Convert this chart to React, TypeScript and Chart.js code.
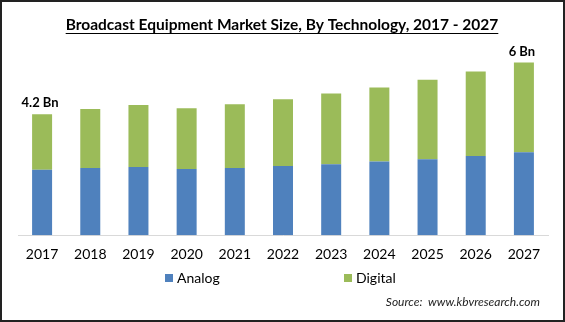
import React, { useEffect, useRef } from "react";
import { Chart, registerables } from "chart.js";

Chart.register(...registerables);

const titleText = "Broadcast Equipment Market Size, By Technology, 2017 - 2027";
const sourceText = "Source:  www.kbvresearch.com";
const years = ["2017", "2018", "2019", "2020", "2021", "2022", "2023", "2024", "2025", "2026", "2027"];
const analog = [2.27, 2.33, 2.37, 2.3, 2.33, 2.4, 2.46, 2.56, 2.64, 2.75, 2.88];
const digital = [1.93, 2.05, 2.15, 2.11, 2.22, 2.32, 2.46, 2.57, 2.76, 2.93, 3.12];
const totalLabels = ["4.2 Bn", "", "", "", "", "", "", "", "", "", "6 Bn"];
const seriesNames = ["Analog", "Digital"];
const seriesColors = ["#4F81BD", "#9BBB59"];

const FONT = "Lato, 'Open Sans', sans-serif";

const overlay = {
  id: "overlay",
  afterDraw(chart: any) {
    const ctx = chart.ctx as CanvasRenderingContext2D;
    ctx.save();
    // title
    ctx.fillStyle = "#000";
    ctx.font = `bold 15.5px ${FONT}`;
    ctx.textAlign = "center";
    ctx.textBaseline = "middle";
    const tx = 282;
    const ty = 25;
    ctx.fillText(titleText, tx, ty);
    const w = ctx.measureText(titleText).width;
    ctx.strokeStyle = "#000";
    ctx.lineWidth = 1;
    ctx.beginPath();
    ctx.moveTo(tx - w / 2, 33.5);
    ctx.lineTo(tx + w / 2, 33.5);
    ctx.stroke();

    // total labels
    const meta = chart.getDatasetMeta(1);
    ctx.font = `bold 13px ${FONT}`;
    meta.data.forEach((el: any, i: number) => {
      const t = totalLabels[i];
      if (!t) return;
      ctx.fillText(t, el.x - 2, el.y - 11);
    });

    // legend
    ctx.font = `14px ${FONT}`;
    ctx.textAlign = "left";
    const legendX = [165, 344];
    seriesNames.forEach((n, i) => {
      ctx.fillStyle = seriesColors[i];
      ctx.fillRect(legendX[i], 274, 8, 8);
      ctx.fillStyle = "#000";
      ctx.fillText(n, legendX[i] + 12, 278.5);
    });

    // source
    ctx.font = `italic 12px ${FONT}`;
    ctx.textAlign = "right";
    ctx.fillStyle = "#222";
    ctx.fillText(sourceText, 540, 302);

    // border
    ctx.strokeStyle = "#222";
    ctx.lineWidth = 2;
    ctx.strokeRect(1, 1, chart.width - 2, chart.height - 2);
    ctx.restore();
  },
};

export default function App() {
  const ref = useRef<HTMLCanvasElement>(null);
  useEffect(() => {
    if (!ref.current) return;
    const chart = new Chart(ref.current, {
      type: "bar",
      data: {
        labels: years,
        datasets: [
          { label: seriesNames[0], data: analog, backgroundColor: seriesColors[0], barPercentage: 0.415, categoryPercentage: 1 },
          { label: seriesNames[1], data: digital, backgroundColor: seriesColors[1], barPercentage: 0.415, categoryPercentage: 1 },
        ],
      },
      options: {
        animation: false,
        responsive: false,
        layout: { padding: { left: 18, right: 17, top: 50, bottom: 56 } },
        plugins: { legend: { display: false }, tooltip: { enabled: false }, title: { display: false } },
        scales: {
          x: {
            stacked: true,
            grid: { display: false },
            border: { display: true, color: "#d9d9d9", width: 1 },
            ticks: { color: "#000", font: { family: FONT, size: 14 }, padding: 3 },
          },
          y: { stacked: true, display: false, min: 0, max: 6.43 },
        },
      },
      plugins: [overlay],
    });
    return () => chart.destroy();
  }, []);
  return (
    <div style={{ position: "absolute", left: 0, top: 0, width: 565, height: 322, background: "#fff" }}>
      <canvas ref={ref} width={565} height={322} />
    </div>
  );
}
